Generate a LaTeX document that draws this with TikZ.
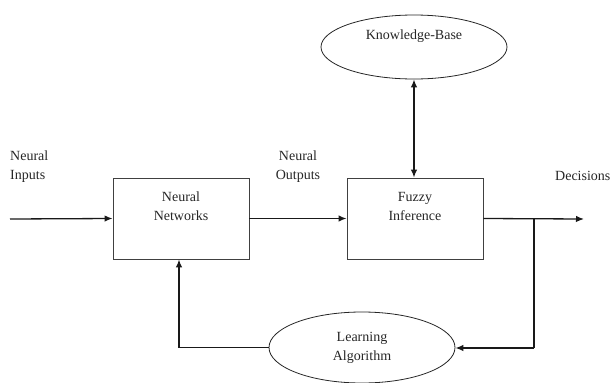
\documentclass[tikz,border=0pt]{standalone}
\usepackage{fontspec}
\setmainfont{Liberation Serif}
\usetikzlibrary{arrows.meta,shapes.geometric}
\begin{document}
\begin{tikzpicture}[x=1pt,y=-1pt,
  every node/.style={font=\fontsize{14}{19}\selectfont, text=black!85},
  blk/.style={draw=black!75, line width=0.9pt, minimum width=136pt, minimum height=81pt, inner sep=0pt},
  oval/.style={draw=black!85, line width=0.8pt, ellipse, inner sep=0pt},
  txt/.style={align=center, inner sep=0pt},
  conn/.style={line width=1.3pt, black!90, -{Latex[length=8pt,width=6.5pt]}},
  plain/.style={line width=1.3pt, black!90}]
\useasboundingbox (0,0) rectangle (614,383);
% blocks
\node[blk] (nn) at (181,218.5) {};
\node[txt] (nnt) at (181,206) {Neural\\Networks};
\node[blk] (fi) at (415,218.5) {};
\node[txt] (fit) at (415,206) {Fuzzy\\Inference};
\node[oval, minimum width=186pt, minimum height=64pt] (kb) at (414,47) {};
\node[txt] (kbt) at (414,36) {Knowledge-Base};
\node[oval, minimum width=186pt, minimum height=71pt] (la) at (362,347.5) {};
\node[txt] (lat) at (362,348) {Learning\\Algorithm};
% labels
\node[txt, align=left, anchor=west] (ni) at (10,167) {Neural\\Inputs};
\node[txt] (no) at (298,167) {Neural\\Outputs};
\node[txt, anchor=west] (dec) at (555,176) {Decisions};
% coordinates
\coordinate (in) at (10,219);
\coordinate (out) at (584,219);
\coordinate (br) at (534,219);
\coordinate (brd) at (534,348);
% connectors
\draw[conn] (in) -- (nn.west);
\draw[conn] (nn.east) -- (fi.west);
\draw[conn, {Latex[length=8pt,width=6.5pt]}-{Latex[length=8pt,width=6.5pt]}] (kb.south) -- (kb.south |- fi.north);
\draw[conn] (fi.east) -- (out);
\draw[plain] (br) -- (brd);
\draw[conn] (brd) -- (brd -| la.east);
\draw[conn] (la.west) -| ([xshift=-2pt]nn.south);
\end{tikzpicture}
\end{document}
